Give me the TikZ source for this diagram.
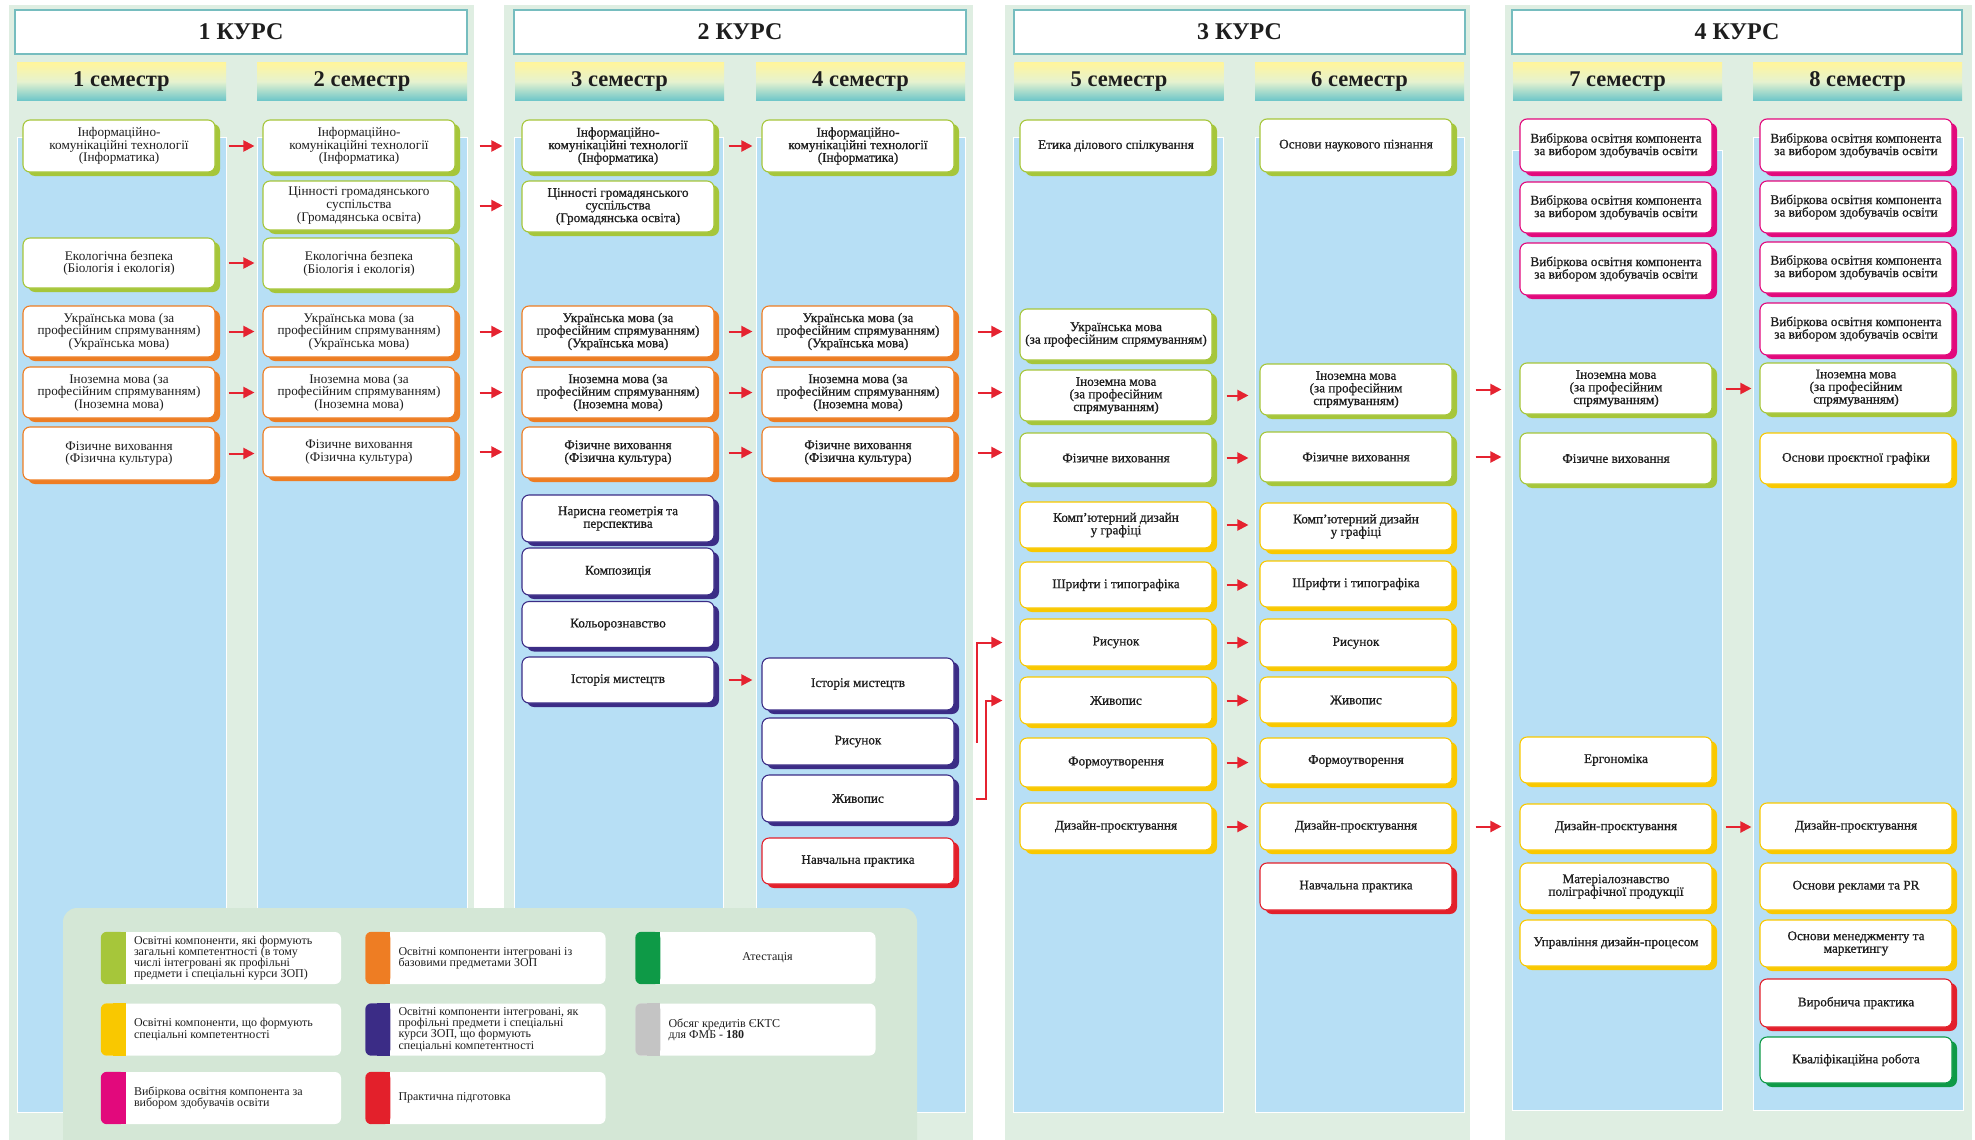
\documentclass[tikz,border=0pt]{standalone}
\usepackage{fontspec}
\setmainfont{Liberation Serif}
\newfontfamily\sbfont{Liberation Serif}[FakeBold=0.8]
\usetikzlibrary{shadows,arrows.meta,calc}
\definecolor{panelc}{HTML}{DFEEE2}
\definecolor{legbg}{HTML}{D4E7D6}
\definecolor{colblue}{HTML}{B7DFF5}
\definecolor{hdrborder}{HTML}{76BDBF}
\definecolor{semtop}{HTML}{FFF59D}
\definecolor{semmid}{HTML}{E6F2CF}
\definecolor{sembot}{HTML}{70C7C9}
\definecolor{limec}{HTML}{A6C63A}
\definecolor{orangec}{HTML}{EE7D23}
\definecolor{purplec}{HTML}{3B2C86}
\definecolor{redc}{HTML}{E3202B}
\definecolor{yellowc}{HTML}{F9C800}
\definecolor{magentac}{HTML}{E2097C}
\definecolor{dkgreenc}{HTML}{0E9A47}
\definecolor{greyc}{HTML}{C4C4C4}
\definecolor{arrred}{HTML}{E52330}
\definecolor{txtc}{HTML}{1E1E1E}
\newcommand\nfA{\fontsize{13.2}{12.6}\selectfont}
\newcommand\nfB{\sbfont\fontsize{13.2}{12.6}\selectfont}
\newcommand\nfL{\fontsize{12}{11.2}\selectfont}
\begin{document}
\begin{tikzpicture}[x=1pt,y=-1pt,
  crs/.style={rounded corners=7pt, fill=white, draw=#1, line width=1.1pt,
    minimum width=192pt, minimum height=50pt, align=center, inner sep=1pt,
    text=txtc, font=\nfA,
    general shadow={fill=#1, shadow xshift=5pt, shadow yshift=-4pt}},
  crsB/.style={crs=#1, font=\nfB},
  crshead/.style={fill=white, draw=hdrborder, line width=1.5pt, text=txtc,
    font=\bfseries\fontsize{24}{24}\selectfont, inner sep=0pt},
  semhead/.style={top color=semtop, bottom color=sembot, middle color=semmid,
    minimum height=37pt, inner sep=0pt, text=txtc,
    font=\bfseries\fontsize{22.5}{22.5}\selectfont},
  colbg/.style={fill=colblue, draw=white, line width=1pt},
  arr/.style={draw=arrred, line width=2pt, -{Triangle[length=11pt,width=11pt]}},
  gA/.style={shorten <=13pt, shorten >=8pt},
  gB/.style={shorten <=24pt, shorten >=19pt},
  gC/.style={shorten <=14pt, shorten >=9pt},
  gD/.style={shorten <=23pt, shorten >=17pt},
  gE/.style={shorten <=14pt, shorten >=11pt},
  gF/.style={shorten <=23pt, shorten >=18pt},
  gG/.style={shorten <=13pt, shorten >=8pt},
  legitem/.style={fill=white, rounded corners=6pt, minimum width=240pt,
    minimum height=52pt, inner sep=0pt},
  legtext/.style={anchor=west, align=left, font=\nfL, text=txtc, inner sep=0pt}
]
\useasboundingbox (0,0) rectangle (1975,1140);
\fill[white] (0,0) rectangle (1975,1140);
% course panels
\fill[panelc] (9,5) rectangle (474,1150);
\fill[panelc] (504,5) rectangle (973,1150);
\fill[panelc] (1005,5) rectangle (1470,1150);
\fill[panelc] (1505,5) rectangle (1972,1150);
% course headers
\node[crshead, minimum width=452pt, minimum height=44pt] (k1) at (241,32) {1 КУРС};
\node[crshead, minimum width=452pt, minimum height=44pt] (k2) at (740,32) {2 КУРС};
\node[crshead, minimum width=451pt, minimum height=44pt] (k3) at (1239.5,32) {3 КУРС};
\node[crshead, minimum width=450pt, minimum height=44pt] (k4) at (1737,32) {4 КУРС};
% semester headers
\node[semhead, minimum width=209pt] (s1) at (121.5,81.5) {1 семестр};
\node[semhead, minimum width=210pt] (s2) at (362,81.5) {2 семестр};
\node[semhead, minimum width=209pt] (s3) at (619.5,81.5) {3 семестр};
\node[semhead, minimum width=209pt] (s4) at (860.5,81.5) {4 семестр};
\node[semhead, minimum width=209pt] (s5) at (1119,81.5) {5 семестр};
\node[semhead, minimum width=209pt] (s6) at (1359.5,81.5) {6 семестр};
\node[semhead, minimum width=209pt] (s7) at (1617.5,81.5) {7 семестр};
\node[semhead, minimum width=209pt] (s8) at (1857.5,81.5) {8 семестр};
% semester columns
\path[colbg] (17,137) rectangle (226,1112);
\path[colbg] (257,137) rectangle (467,1112);
\path[colbg] (514,137) rectangle (723,1112);
\path[colbg] (756,137) rectangle (965,1112);
\path[colbg] (1013,137) rectangle (1223,1112);
\path[colbg] (1255,137) rectangle (1464,1112);
\path[colbg] (1512,150) rectangle (1722,1110);
\path[colbg] (1753,137) rectangle (1963,1110);
% legend
\fill[legbg, rounded corners=14pt] (63,1170) -- (63,908) -- (917,908) -- (917,1170) -- cycle;
\foreach \nm/\cx/\cy/\cc in {L1/221/958/limec, L2/485.5/958/orangec, L3/755.5/958/dkgreenc,
  L4/221/1029.5/yellowc, L5/485.5/1029.5/purplec, L6/755.5/1029.5/greyc,
  L7/221/1098/magentac, L8/485.5/1098/redc}{
  \node[legitem] (\nm) at (\cx,\cy) {};
  \fill[\cc, rounded corners=6pt] (\nm.north west) rectangle ([xshift=25pt]\nm.south west);
  \fill[\cc] ([xshift=12pt]\nm.north west) rectangle ([xshift=25pt]\nm.south west);
}
\node[legtext] (T1) at ([xshift=33pt]L1.west) {Освітні компоненти, які формують\\загальні компетентності (в тому\\числі інтегровані як профільні\\предмети і спеціальні курси ЗОП)};
\node[legtext] (T2) at ([xshift=33pt]L2.west) {Освітні компоненти інтегровані із\\базовими предметами ЗОП};
\node[font=\nfL, text=txtc] (T3) at ([xshift=12pt]L3.center) {Атестація};
\node[legtext] (T4) at ([xshift=33pt]L4.west) {Освітні компоненти, що формують\\спеціальні компетентності};
\node[legtext] (T5) at ([xshift=33pt]L5.west) {Освітні компоненти інтегровані, як\\профільні предмети і спеціальні\\курси ЗОП, що формують\\спеціальні компетентності};
\node[legtext] (T6) at ([xshift=33pt]L6.west) {Обсяг кредитів ЄКТС\\для ФМБ - \textbf{180}};
\node[legtext] (T7) at ([xshift=33pt]L7.west) {Вибіркова освітня компонента за\\вибором здобувачів освіти};
\node[legtext] (T8) at ([xshift=33pt]L8.west) {Практична підготовка};
% ---------- column 1
\node[crs=limec, minimum height=52pt] (a1) at (119,146) {Інформаційно-\\комунікаційні технології\\(Інформатика)};
\node[crs=limec] (a2) at (119,263) {Екологічна безпека\\(Біологія і екологія)};
\node[crs=orangec, minimum height=51pt] (a3) at (119,331.5) {Українська мова (за\\професійним спрямуванням)\\(Українська мова)};
\node[crs=orangec, minimum height=51pt] (a4) at (119,392.5) {Іноземна мова (за\\професійним спрямуванням)\\(Іноземна мова)};
\node[crs=orangec, minimum height=53pt] (a5) at (119,453.5) {Фізичне виховання\\(Фізична культура)};
% ---------- column 2
\node[crs=limec, minimum height=52pt] (b1) at (359,146) {Інформаційно-\\комунікаційні технології\\(Інформатика)};
\node[crs=limec, minimum height=49pt] (b2) at (359,205.5) {Цінності громадянського\\суспільства\\(Громадянська освіта)};
\node[crs=limec, minimum height=51pt] (b3) at (359,263.5) {Екологічна безпека\\(Біологія і екологія)};
\node[crs=orangec, minimum height=51pt] (b4) at (359,331.5) {Українська мова (за\\професійним спрямуванням)\\(Українська мова)};
\node[crs=orangec, minimum height=51pt] (b5) at (359,392.5) {Іноземна мова (за\\професійним спрямуванням)\\(Іноземна мова)};
\node[crs=orangec] (b6) at (359,452) {Фізичне виховання\\(Фізична культура)};
% ---------- column 3
\node[crsB=limec, minimum height=52pt] (c1) at (618,146) {Інформаційно-\\комунікаційні технології\\(Інформатика)};
\node[crsB=limec, minimum height=51pt] (c2) at (618,206.5) {Цінності громадянського\\суспільства\\(Громадянська освіта)};
\node[crsB=orangec, minimum height=51pt] (c3) at (618,331.5) {Українська мова (за\\професійним спрямуванням)\\(Українська мова)};
\node[crsB=orangec, minimum height=51pt] (c4) at (618,392.5) {Іноземна мова (за\\професійним спрямуванням)\\(Іноземна мова)};
\node[crsB=orangec, minimum height=51pt] (c5) at (618,452.5) {Фізичне виховання\\(Фізична культура)};
\node[crsB=purplec, minimum height=47pt] (c6) at (618,518.5) {Нарисна геометрія та\\перспектива};
\node[crsB=purplec, minimum height=47pt] (c7) at (618,571.5) {Композиція};
\node[crsB=purplec, minimum height=46pt] (c8) at (618,624.5) {Кольорознавство};
\node[crsB=purplec, minimum height=46pt] (c9) at (618,680) {Історія мистецтв};
% ---------- column 4
\node[crsB=limec, minimum height=52pt] (d1) at (858,146) {Інформаційно-\\комунікаційні технології\\(Інформатика)};
\node[crsB=orangec, minimum height=51pt] (d2) at (858,331.5) {Українська мова (за\\професійним спрямуванням)\\(Українська мова)};
\node[crsB=orangec, minimum height=51pt] (d3) at (858,392.5) {Іноземна мова (за\\професійним спрямуванням)\\(Іноземна мова)};
\node[crsB=orangec, minimum height=51pt] (d4) at (858,452.5) {Фізичне виховання\\(Фізична культура)};
\node[crsB=purplec, minimum height=52pt] (d5) at (858,684) {Історія мистецтв};
\node[crsB=purplec, minimum height=47pt] (d6) at (858,741.5) {Рисунок};
\node[crsB=purplec, minimum height=47pt] (d7) at (858,798.5) {Живопис};
\node[crsB=redc, minimum height=46pt] (d8) at (858,861) {Навчальна практика};
% ---------- column 5
\node[crsB=limec, minimum height=52pt] (e1) at (1116,146) {Етика ділового спілкування};
\node[crsB=limec, minimum height=51pt] (e2) at (1116,334.5) {Українська мова\\(за професійним спрямуванням)};
\node[crsB=limec, minimum height=51pt] (e3) at (1116,395.5) {Іноземна мова\\(за професійним\\спрямуванням)};
\node[crsB=limec, minimum height=50pt] (e4) at (1116,458) {Фізичне виховання};
\node[crsB=yellowc, minimum height=46pt] (e5) at (1116,525) {Комп’ютерний дизайн\\у графіці};
\node[crsB=yellowc, minimum height=46pt] (e6) at (1116,585) {Шрифти і типографіка};
\node[crsB=yellowc, minimum height=47pt] (e7) at (1116,642.5) {Рисунок};
\node[crsB=yellowc, minimum height=47pt] (e8) at (1116,700.5) {Живопис};
\node[crsB=yellowc, minimum height=49pt] (e9) at (1116,762.5) {Формоутворення};
\node[crsB=yellowc, minimum height=47pt] (e10) at (1116,826.5) {Дизайн-проєктування};
% ---------- column 6
\node[crsB=limec, minimum height=53pt] (f1) at (1356,145.5) {Основи наукового пізнання};
\node[crsB=limec, minimum height=51pt] (f2) at (1356,389.5) {Іноземна мова\\(за професійним\\спрямуванням)};
\node[crsB=limec, minimum height=50pt] (f3) at (1356,457) {Фізичне виховання};
\node[crsB=yellowc, minimum height=47pt] (f4) at (1356,526.5) {Комп’ютерний дизайн\\у графіці};
\node[crsB=yellowc, minimum height=46pt] (f5) at (1356,584) {Шрифти і типографіка};
\node[crsB=yellowc, minimum height=48pt] (f6) at (1356,643) {Рисунок};
\node[crsB=yellowc, minimum height=46pt] (f7) at (1356,700) {Живопис};
\node[crsB=yellowc, minimum height=46pt] (f8) at (1356,761) {Формоутворення};
\node[crsB=yellowc, minimum height=47pt] (f9) at (1356,826.5) {Дизайн-проєктування};
\node[crsB=redc, minimum height=47pt] (f10) at (1356,886.5) {Навчальна практика};
% ---------- column 7
\node[crsB=magentac, minimum height=53pt] (g1) at (1616,145.5) {Вибіркова освітня компонента\\за вибором здобувачів освіти};
\node[crsB=magentac, minimum height=51pt] (g2) at (1616,207.5) {Вибіркова освітня компонента\\за вибором здобувачів освіти};
\node[crsB=magentac, minimum height=52pt] (g3) at (1616,269) {Вибіркова освітня компонента\\за вибором здобувачів освіти};
\node[crsB=limec, minimum height=51pt] (g4) at (1616,388.5) {Іноземна мова\\(за професійним\\спрямуванням)};
\node[crsB=limec, minimum height=51pt] (g5) at (1616,458.5) {Фізичне виховання};
\node[crsB=yellowc, minimum height=46pt] (g6) at (1616,760) {Ергономіка};
\node[crsB=yellowc, minimum height=46pt] (g7) at (1616,827) {Дизайн-проєктування};
\node[crsB=yellowc, minimum height=47pt] (g8) at (1616,886.5) {Матеріалознавство\\поліграфічної продукції};
\node[crsB=yellowc, minimum height=46pt] (g9) at (1616,943) {Управління дизайн-процесом};
% ---------- column 8
\node[crsB=magentac, minimum height=53pt] (h1) at (1856,145.5) {Вибіркова освітня компонента\\за вибором здобувачів освіти};
\node[crsB=magentac, minimum height=52pt] (h2) at (1856,207) {Вибіркова освітня компонента\\за вибором здобувачів освіти};
\node[crsB=magentac, minimum height=51pt] (h3) at (1856,267.5) {Вибіркова освітня компонента\\за вибором здобувачів освіти};
\node[crsB=magentac, minimum height=52pt] (h4) at (1856,329) {Вибіркова освітня компонента\\за вибором здобувачів освіти};
\node[crsB=limec, minimum height=50pt] (h5) at (1856,388) {Іноземна мова\\(за професійним\\спрямуванням)};
\node[crsB=yellowc, minimum height=51pt] (h6) at (1856,458.5) {Основи проєктної графіки};
\node[crsB=yellowc, minimum height=47pt] (h7) at (1856,826.5) {Дизайн-проєктування};
\node[crsB=yellowc, minimum height=47pt] (h8) at (1856,886.5) {Основи реклами та PR};
\node[crsB=yellowc, minimum height=47pt] (h9) at (1856,943.5) {Основи менеджменту та\\маркетингу};
\node[crsB=redc, minimum height=48pt] (h10) at (1856,1003) {Виробнича практика};
\node[crsB=dkgreenc, minimum height=46pt] (h11) at (1856,1060) {Кваліфікаційна робота};
% ---------- arrows
\foreach \s/\t in {a1/b1, a2/b3, a3/b4, a4/b5, a5/b6}
  \draw[arr, gA] (\s.east) -- (\s.east -| \t.west);
\foreach \s/\t in {b1/c1, b2/c2, b4/c3, b5/c4, b6/c5}
  \draw[arr, gB] (\s.east) -- (\s.east -| \t.west);
\foreach \s/\t in {c1/d1, c3/d2, c4/d3, c5/d4, c9/d5}
  \draw[arr, gC] (\s.east) -- (\s.east -| \t.west);
\foreach \s/\t in {d2/e2, d3/e3, d4/e4}
  \draw[arr, gD] (\s.east) -- (\s.east -| \t.west);
\foreach \s/\t in {e3/f2, e4/f3, e5/f4, e6/f5, e7/f6, e8/f7, e9/f8, e10/f9}
  \draw[arr, gE] (\s.east) -- (\s.east -| \t.west);
\foreach \s/\t in {f2/g4, f3/g5, f9/g7}
  \draw[arr, gF] (\s.east) -- (\s.east -| \t.west);
\foreach \s/\t in {g4/h5, g7/h7}
  \draw[arr, gG] (\s.east) -- (\s.east -| \t.west);
% elbow connectors
\draw[arr] ($(d6.east)+(21,0)$) -| ($(e7.west)+(-42,0)$) -- ($(e7.west)+(-17,0)$);
\draw[arr] ($(d7.east)+(21,0)$) -| ($(e8.west)+(-33,0)$) -- ($(e8.west)+(-17,0)$);
\end{tikzpicture}
\end{document}
